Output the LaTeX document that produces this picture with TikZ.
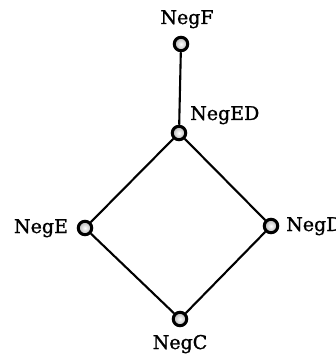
\documentclass[tikz,border=0pt]{standalone}
\usepackage{fontspec}
\setmainfont{DejaVu Serif}
\newfontfamily\lblfont[FakeBold=1.2]{DejaVu Serif}
\begin{document}
\begin{tikzpicture}[x=1pt,y=-1pt,
  vtx/.style={circle,draw=black,line width=3pt,shade,inner color=white,outer color=gray!60,inner sep=0pt,minimum size=13.5pt},
  lbl/.style={font=\lblfont\fontsize{19}{22}\selectfont,inner sep=0pt},
  edge/.style={line width=2.1pt}]
\useasboundingbox (0,0) rectangle (336,358);
\node[vtx] (F) at (181,44) {};
\node[vtx] (ED) at (179,133) {};
\node[vtx] (E) at (85,228) {};
\node[vtx] (D) at (271,226) {};
\node[vtx] (C) at (180,319) {};
\draw[edge] (F) -- (ED);
\draw[edge] (ED) -- (E);
\draw[edge] (ED) -- (D);
\draw[edge] (E) -- (C);
\draw[edge] (D) -- (C);
\node[lbl,anchor=base] (lF) at (187,24) {NegF};
\node[lbl,anchor=base west] (lED) at (190,120) {NegED};
\node[lbl,anchor=base] (lE) at (41,233) {NegE};
\node[lbl,anchor=base west] (lD) at (286,231) {NegD};
\node[lbl,anchor=base] (lC) at (180,349) {NegC};
\end{tikzpicture}
\end{document}
